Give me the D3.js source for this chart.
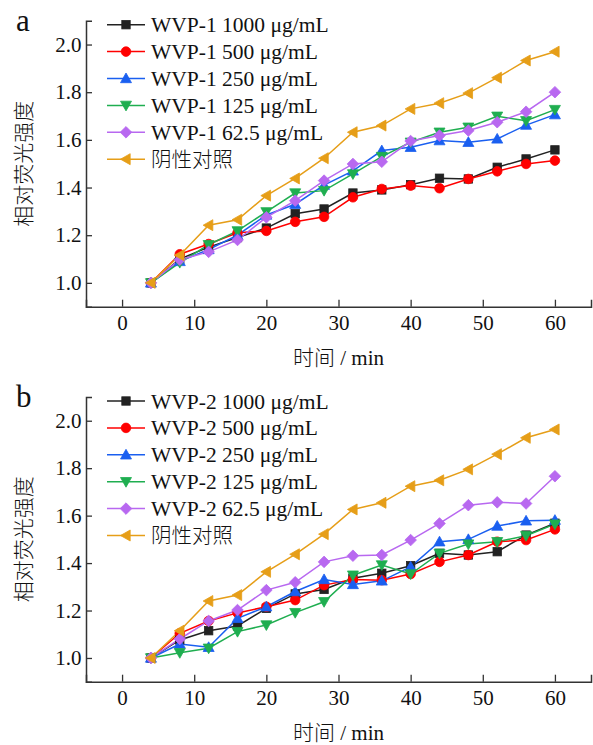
<!DOCTYPE html>
<html>
<head>
<meta charset="utf-8">
<script src="https://cdn.jsdelivr.net/npm/d3@7"></script>
<style>
  body { margin: 0; background: #fff; }
  text { font-family: "Liberation Serif", "Times New Roman", serif; fill: #111; }
  .cjk { font-family: "Noto Sans CJK SC", sans-serif; font-weight: 300; }
</style>
</head>
<body>
<svg id="chart" width="593" height="745"></svg>
<script>
const times = [4, 8, 12, 16, 20, 24, 28, 32, 36, 40, 44, 48, 52, 56, 60];
const xTicks = [0, 10, 20, 30, 40, 50, 60];
const yTicks = [1.0, 1.2, 1.4, 1.6, 1.8, 2.0];
const doses = ['1000 μg/mL', '500 μg/mL', '250 μg/mL', '125 μg/mL', '62.5 μg/mL'];
const controlName = '阴性对照';
const colors = ['#222222', '#ff0000', '#1a5ff0', '#1fae50', '#b868f0', '#e69e18'];
const symbols = ['square', 'circle', 'up', 'down', 'diamond', 'left'];

// WVP-1 (panel a)
const a1000 = [1.00, 1.10, 1.15, 1.19, 1.23, 1.29, 1.31, 1.377, 1.39, 1.412, 1.439, 1.436, 1.485, 1.52, 1.558];
const a500  = [1.00, 1.12, 1.163, 1.21, 1.218, 1.256, 1.277, 1.359, 1.394, 1.408, 1.397, 1.436, 1.468, 1.499, 1.513];
const a250  = [1.00, 1.09, 1.14, 1.20, 1.285, 1.33, 1.41, 1.47, 1.555, 1.569, 1.597, 1.59, 1.604, 1.662, 1.706];
const a125  = [1.00, 1.085, 1.16, 1.218, 1.298, 1.377, 1.387, 1.457, 1.53, 1.59, 1.632, 1.653, 1.699, 1.68, 1.727];
const a62   = [1.00, 1.097, 1.13, 1.18, 1.275, 1.345, 1.429, 1.499, 1.508, 1.595, 1.618, 1.639, 1.674, 1.718, 1.80];
const aCtrl = [1.00, 1.116, 1.242, 1.265, 1.366, 1.438, 1.523, 1.632, 1.66, 1.73, 1.754, 1.796, 1.861, 1.933, 1.97];

// WVP-2 (panel b)
const b1000 = [1.00, 1.076, 1.115, 1.135, 1.209, 1.27, 1.289, 1.336, 1.357, 1.389, 1.441, 1.434, 1.448, 1.518, 1.568];
const b500  = [1.00, 1.104, 1.156, 1.19, 1.216, 1.244, 1.307, 1.331, 1.328, 1.354, 1.405, 1.434, 1.49, 1.497, 1.542];
const b250  = [1.00, 1.059, 1.045, 1.167, 1.216, 1.28, 1.331, 1.31, 1.325, 1.384, 1.49, 1.50, 1.556, 1.578, 1.581];
const b125  = [1.00, 1.022, 1.041, 1.111, 1.139, 1.191, 1.237, 1.349, 1.392, 1.354, 1.441, 1.48, 1.49, 1.515, 1.564];
const b62   = [1.00, 1.08, 1.156, 1.202, 1.286, 1.319, 1.405, 1.431, 1.434, 1.497, 1.567, 1.644, 1.656, 1.651, 1.766];
const bCtrl = [1.00, 1.115, 1.24, 1.265, 1.363, 1.437, 1.522, 1.626, 1.654, 1.724, 1.749, 1.795, 1.859, 1.928, 1.963];

const svg = d3.select('#chart');

// 标记符号
function marker(g, type, color, x, y) {
  let el;
  if (type === 'square') {
    el = g.append('rect').attr('x', x - 4.2).attr('y', y - 4.2).attr('width', 8.4).attr('height', 8.4);
  } else if (type === 'circle') {
    el = g.append('circle').attr('cx', x).attr('cy', y).attr('r', 4.8);
  } else {
    let pts;
    if (type === 'up') pts = [[0, -5.5], [5.5, 4.2], [-5.5, 4.2]];
    if (type === 'down') pts = [[0, 5.5], [5.5, -4.2], [-5.5, -4.2]];
    if (type === 'left') pts = [[-5.5, 0], [4.2, -5.5], [4.2, 5.5]];
    if (type === 'diamond') pts = [[0, -5.8], [5.8, 0], [0, 5.8], [-5.8, 0]];
    el = g.append('polygon').attr('points', pts.map(p => [x + p[0], y + p[1]].join(',')).join(' '));
  }
  el.attr('fill', color).attr('stroke', color).attr('stroke-width', 0.8);
}

function panel(letter, prefix, series, top, bottom) {
  const left = 86, right = 591;
  const x = d3.scaleLinear().domain([-5, 65]).range([left, right]);
  const y = d3.scaleLinear().domain([0.9, 2.1]).range([bottom, top]);
  const g = svg.append('g');

  // 坐标轴
  g.append('g')
    .attr('transform', `translate(0,${bottom})`)
    .call(d3.axisBottom(x).tickValues(xTicks).tickSize(-7).tickPadding(8).tickFormat(d3.format('d')))
    .call(a => a.select('.domain').attr('stroke', '#333').attr('stroke-width', 1.5))
    .call(a => a.selectAll('.tick line').attr('stroke', '#333').attr('stroke-width', 1.3))
    .call(a => a.selectAll('.tick text').attr('font-size', 21).attr('font-family', '"Liberation Serif", serif').attr('fill', '#111'));
  g.append('g')
    .attr('transform', `translate(${left},0)`)
    .call(d3.axisLeft(y).tickValues(yTicks).tickSize(-6).tickPadding(4.5).tickFormat(d3.format('.1f')))
    .call(a => a.select('.domain').attr('stroke', '#333').attr('stroke-width', 1.5))
    .call(a => a.selectAll('.tick line').attr('stroke', '#333').attr('stroke-width', 1.3))
    .call(a => a.selectAll('.tick text').attr('font-size', 21).attr('font-family', '"Liberation Serif", serif').attr('fill', '#111'));

  // 轴标题
  g.append('text').attr('x', (left + right) / 2).attr('y', bottom + 58)
    .attr('text-anchor', 'middle').attr('font-size', 21)
    .html('<tspan class="cjk">时间</tspan> / min');
  g.append('text').attr('class', 'cjk')
    .attr('transform', `translate(31,${(top + bottom) / 2}) rotate(-90)`)
    .attr('text-anchor', 'middle').attr('font-size', 21).text('相对荧光强度');
  g.append('text').attr('x', 16).attr('y', top + 10).attr('font-size', 31).text(letter);

  // 折线
  const line = d3.line().x((d, i) => x(times[i])).y(d => y(d));
  series.forEach((vals, k) => {
    g.append('path').attr('d', line(vals)).attr('fill', 'none')
      .attr('stroke', colors[k]).attr('stroke-width', 1.5);
  });
  series.forEach((vals, k) => {
    const mg = g.append('g');
    vals.forEach((v, i) => marker(mg, symbols[k], colors[k], x(times[i]), y(v)));
  });

  // 图例
  const names = doses.map(d => `${prefix} ${d}`).concat([controlName]);
  const lg = g.append('g').attr('transform', `translate(107,${top + 4})`);
  names.forEach((n, k) => {
    const yy = k * 26.9;
    lg.append('line').attr('x1', 0).attr('x2', 38).attr('y1', yy).attr('y2', yy)
      .attr('stroke', colors[k]).attr('stroke-width', 1.5);
    marker(lg, symbols[k], colors[k], 19, yy);
    lg.append('text').attr('x', 44).attr('y', yy + 7.5)
      .attr('font-size', k === 5 ? 20.5 : 21.5)
      .attr('class', k === 5 ? 'cjk' : null).text(n);
  });
}

panel('a', 'WVP-1', [a1000, a500, a250, a125, a62, aCtrl], 20.7, 306.7);
panel('b', 'WVP-2', [b1000, b500, b250, b125, b62, bCtrl], 397, 681.7);
</script>
</body>
</html>
